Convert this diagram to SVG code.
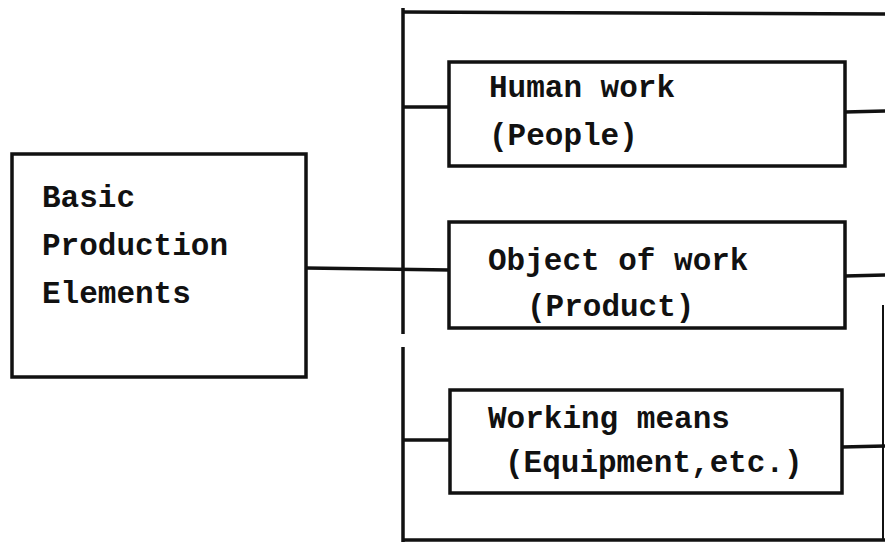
<svg xmlns="http://www.w3.org/2000/svg" width="885" height="546" viewBox="0 0 885 546">
<style>
.box{fill:#fff;stroke:#111;stroke-width:3.5}
.ln{fill:none;stroke:#111;stroke-width:3.5}
.t{font-family:"Liberation Mono","Courier New",monospace;font-weight:bold;font-size:31px;fill:#111}
</style>
<rect width="885" height="546" fill="#fff"/>
<g id="connectors">
<line class="ln" x1="306" y1="268" x2="450" y2="270"/>
<path class="ln" d="M403,8 V334 M403,347 V542"/>
<line class="ln" x1="403" y1="12" x2="885" y2="14"/>
<line class="ln" x1="403" y1="540" x2="885" y2="540"/>
<line class="ln" x1="883" y1="305" x2="883" y2="540" style="stroke-width:2"/>
<line class="ln" x1="403" y1="107" x2="450" y2="107"/>
<line class="ln" x1="845" y1="112" x2="885" y2="111"/>
<line class="ln" x1="845" y1="276" x2="885" y2="275"/>
<line class="ln" x1="403" y1="440" x2="450" y2="440"/>
<line class="ln" x1="842" y1="447" x2="885" y2="446"/>
</g>
<g id="basic">
<rect class="box" x="12" y="154" width="294" height="223"/>
<text class="t" x="42" y="207">Basic</text>
<text class="t" x="42" y="255">Production</text>
<text class="t" x="42" y="303">Elements</text>
</g>
<g id="human">
<rect class="box" x="449" y="62" width="396" height="104"/>
<text class="t" x="489" y="97">Human work</text>
<text class="t" x="489" y="145">(People)</text>
</g>
<g id="object">
<rect class="box" x="449" y="222" width="396" height="106"/>
<text class="t" x="488" y="270">Object of work</text>
<text class="t" x="527" y="316">(Product)</text>
</g>
<g id="working">
<rect class="box" x="450" y="390" width="392" height="103"/>
<text class="t" x="488" y="428">Working means</text>
<text class="t" x="505" y="472">(Equipment,etc.)</text>
</g>
</svg>
